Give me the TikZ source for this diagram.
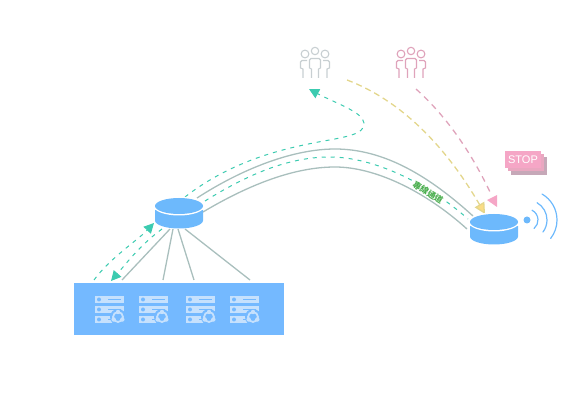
\documentclass[tikz,border=0pt]{standalone}
\usepackage{fontspec}
\newfontfamily\cjkfont{Noto Sans CJK TC}
\newfontfamily\signfont{Liberation Sans}
\usepackage{tkz-euclide}
\usetikzlibrary{arrows.meta,calc}

\definecolor{hubblue}{HTML}{6DB9FC}
\definecolor{boxblue}{HTML}{74B9FF}
\definecolor{iconblue}{HTML}{C6E1FD}
\definecolor{railgray}{HTML}{A9BFBD}
\definecolor{dashteal}{HTML}{3CCBB0}
\definecolor{dashyellow}{HTML}{E3D68C}
\definecolor{tipyellow}{HTML}{FBDC85}
\definecolor{dashpink}{HTML}{DFA3BB}
\definecolor{tippink}{HTML}{F5A6C6}
\definecolor{stopmid}{HTML}{E9A7C0}
\definecolor{stopback}{HTML}{C6A8B8}
\definecolor{crowdgray}{HTML}{C8CFD2}
\definecolor{labelgreen}{HTML}{4CAF50}

\tikzset{
  rail/.style={railgray,line width=1.3pt},
  flow/.style={dashteal,line width=1pt,dash pattern=on 4pt off 5pt},
  tealtip/.style={-{Triangle[length=10pt,width=10pt,fill=dashteal]}},
  pics/hub/.style={code={
    \fill[hubblue] (-24,4) -- (-24,14.5) arc[x radius=24,y radius=8,start angle=180,end angle=0] -- (24,4) -- cycle;
    \fill[white] (0,0) ellipse[x radius=25.5,y radius=9.5];
    \fill[hubblue] (0,0) ellipse[x radius=24,y radius=8];
  }},
  pics/rack/.style={code={
    \foreach \r in {0,10,20}{
      \fill[iconblue] (0,\r) rectangle (29,\r+7);
      \fill[boxblue] (4,\r+3.5) circle[radius=2];
      \draw[boxblue,line width=1.3pt] (13,\r+3.5) -- (26,\r+3.5);
    }
    \fill[boxblue] (23,21) circle[radius=8];
    \draw[iconblue,line width=1.8pt] (23,21) circle[radius=5];
    \foreach \a in {30,150,270}
      \fill[iconblue] ($(23,21)+(\a:5)$) circle[radius=2.2];
  }},
  pics/crowd/.style={code={
    \begin{scope}[draw=#1,line width=1.1pt]
    \draw (0,0) circle[radius=3.7];
    \draw (-10,3) circle[radius=3.9];
    \draw (10,3) circle[radius=3.9];
    \draw (-3.5,27) -- (-3.5,18) -- (-5.5,17) -- (-5.5,9) -- (-4,7.5) -- (4,7.5) -- (5.5,9) -- (5.5,17) -- (3.5,18) -- (3.5,27);
    \draw (-12,27) -- (-12,18) -- (-14.5,17) -- (-14.5,11) -- (-13,9.5) -- (-8,9.5);
    \draw (12,27) -- (12,18) -- (14.5,17) -- (14.5,11) -- (13,9.5) -- (8,9.5);
    \end{scope}
  }}
}

\begin{document}
\begin{tikzpicture}[x=1pt,y=-1pt]
\useasboundingbox (0,0) rectangle (563,414);

% Define the end points of the rails and flows.
\tkzDefPoints{197/198/UA,335/149/UB,473/216/UC}
\tkzDefPoints{203/212/LA,335/167/LB,467/229/LC}
\tkzDefPoints{205/201/MA,330/157/MB,468/219/MC}
\tkzDefPoints{185/197/FA,364/123/FB,309/89/FC}
\tkzDefPoints{94/280/GA,154/223/GB,162/229/HA,111/281/HB}
\tkzDefPoints{347/80/YA,485/214/YB,416/89/PA,490/192/PB}

% Define the feet of the four server lines.
\tkzDefPoints{170/229/S1,173/229/S2,178/229/S3,185/229/S4}
\tkzDefPoints{122/280/R1,163/280/R2,194/280/R3,250/280/R4}

\foreach \i in {1,...,4}
  \draw[rail] (S\i) -- (R\i);

\draw[rail] (UA) .. controls (245,167) and (295,149) .. (UB) .. controls (385,149) and (430,177) .. (UC);
\draw[rail] (LA) .. controls (250,184) and (295,167) .. (LB) .. controls (375,167) and (425,191) .. (LC);

\draw[flow] (MA) .. controls (250,173) and (290,157) .. (MB) .. controls (375,157) and (430,185) .. (MC);
\draw[flow,tealtip] (FA) .. controls (235,158) and (290,148) .. (313,143) .. controls (345,137) and (365,135) .. (FB) .. controls (363,112) and (335,103) .. (FC);
\draw[flow,tealtip] (GA) .. controls (110,258) and (138,240) .. (GB);
\draw[flow,tealtip] (HA) .. controls (140,245) and (125,265) .. (HB);

\draw[dashyellow,line width=1.3pt,dash pattern=on 6pt off 4pt,-{Triangle[length=11pt,width=11pt,fill=tipyellow]}] (YA) .. controls (400,100) and (445,145) .. (YB);
\draw[dashpink,line width=1.3pt,dash pattern=on 6pt off 5pt] (PA) .. controls (445,115) and (470,150) .. (PB);
\fill[tippink] (487,200) -- (497,195) -- (497,207) -- cycle;

\node[fill=white,inner sep=.5pt,rotate=-32,text=labelgreen,font=\cjkfont\bfseries\fontsize{8.5}{9}\selectfont] (tunnel) at (428,192.5) {專線通道};

% The blue box with its racks.
\node[fill=boxblue,minimum width=210pt,minimum height=52pt,inner sep=0pt] (rackbox) at (179,309) {};
\pic at (95,296) {rack};
\pic at (139,296) {rack};
\pic at (186,296) {rack};
\pic at (230,296) {rack};

\pic at (179,206) {hub};
\pic at (494,222) {hub};

% The signal beside the right hub.
\tkzDefPoint(527,220){W}
\fill[hubblue] (W) circle[radius=3.5];
\draw[hubblue,line width=1.2pt,line cap=round] ($(W)+(-63:11)$) arc[radius=11,start angle=-63,end angle=50];
\draw[hubblue,line width=1.2pt,line cap=round] ($(W)+(-60:20)$) arc[radius=20,start angle=-60,end angle=37];
\draw[hubblue,line width=1.2pt,line cap=round] ($(W)+(-60:30)$) arc[radius=30,start angle=-60,end angle=38];

% The stop sign, three layers.
\fill[stopback] (511,157) rectangle (547,175);
\fill[stopmid] (508,154) rectangle (544,171);
\node[fill=tippink,text=white,minimum width=36pt,minimum height=17pt,inner sep=0pt,font=\signfont\fontsize{11}{11}\selectfont] (stop) at (523,159.5) {STOP};

\pic at (315,51) {crowd=crowdgray};
\pic at (411,51) {crowd=dashpink};

\end{tikzpicture}
\end{document}
